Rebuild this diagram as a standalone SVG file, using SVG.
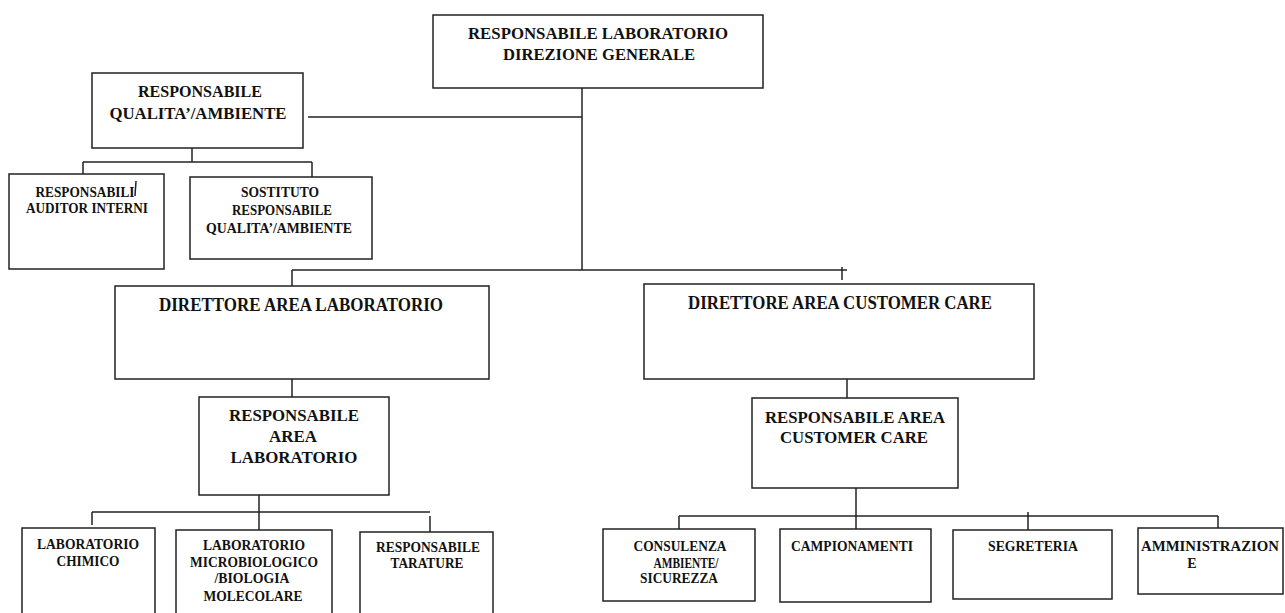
<svg xmlns="http://www.w3.org/2000/svg" width="1285" height="613" viewBox="0 0 1285 613">
<style>
rect{fill:#fff;stroke:#222;stroke-width:1.5}
line,path{stroke:#222;stroke-width:1.5;fill:none}
text{font-family:"Liberation Serif","Times New Roman",serif;font-weight:bold;fill:#111;text-anchor:middle}
.L{font-size:17px}
.X{font-size:18px}
.S{font-size:14px}
</style>
<rect x="0" y="0" width="1285" height="613" style="fill:#fff;stroke:none"/>
<g id="connectors">
<line x1="582" y1="88" x2="582" y2="270"/>
<line x1="308" y1="117" x2="582" y2="117"/>
<line x1="192" y1="148" x2="192" y2="162"/>
<line x1="83" y1="162" x2="312" y2="162"/>
<line x1="83" y1="162" x2="83" y2="175"/>
<line x1="312" y1="162" x2="312" y2="177"/>
<line x1="292" y1="270" x2="847" y2="270"/>
<line x1="292" y1="270" x2="292" y2="286"/>
<line x1="842" y1="267" x2="842" y2="280"/>
<line x1="292" y1="377" x2="292" y2="397"/>
<line x1="847" y1="377" x2="847" y2="399"/>
<line x1="259" y1="495" x2="259" y2="530"/>
<line x1="92" y1="512" x2="430" y2="512"/>
<line x1="92" y1="512" x2="92" y2="525"/>
<line x1="430" y1="516" x2="430" y2="532"/>
<line x1="856" y1="488" x2="856" y2="529"/>
<line x1="679" y1="516" x2="1218" y2="516"/>
<line x1="679" y1="516" x2="679" y2="529"/>
<line x1="1028" y1="512" x2="1028" y2="530"/>
<line x1="1218" y1="516" x2="1218" y2="528"/>
</g>
<g id="n-direzione">
<rect x="433" y="15" width="330" height="73"/>
<text class="L" x="598" y="39" textLength="260" lengthAdjust="spacingAndGlyphs">RESPONSABILE LABORATORIO</text>
<text class="L" x="599" y="60" textLength="192" lengthAdjust="spacingAndGlyphs">DIREZIONE GENERALE</text>
</g>
<g id="n-qualita">
<rect x="92" y="73" width="211" height="75"/>
<text class="L" x="200" y="97" textLength="124" lengthAdjust="spacingAndGlyphs">RESPONSABILE</text>
<text class="L" x="198" y="119" textLength="177" lengthAdjust="spacingAndGlyphs">QUALITA’/AMBIENTE</text>
</g>
<g id="n-auditor">
<rect x="9" y="174" width="155" height="95"/>
<text class="S" x="85" y="197" textLength="99" lengthAdjust="spacingAndGlyphs">RESPONSABILI</text>
<line x1="136" y1="181" x2="135" y2="196"/>
<text class="S" x="87" y="213" textLength="122" lengthAdjust="spacingAndGlyphs">AUDITOR INTERNI</text>
</g>
<g id="n-sostituto">
<rect x="190" y="177" width="182" height="82"/>
<text class="S" x="280" y="197" textLength="78" lengthAdjust="spacingAndGlyphs">SOSTITUTO</text>
<text class="S" x="282" y="215" textLength="100" lengthAdjust="spacingAndGlyphs">RESPONSABILE</text>
<text class="S" x="279" y="233" textLength="146" lengthAdjust="spacingAndGlyphs">QUALITA’/AMBIENTE</text>
</g>
<g id="n-dir-lab">
<rect x="115" y="286" width="374" height="93"/>
<text class="X" x="301" y="311" textLength="284" lengthAdjust="spacingAndGlyphs">DIRETTORE AREA LABORATORIO</text>
</g>
<g id="n-resp-lab">
<rect x="199" y="397" width="190" height="98"/>
<text class="L" x="294" y="421" textLength="130" lengthAdjust="spacingAndGlyphs">RESPONSABILE</text>
<text class="L" x="293" y="442" textLength="48" lengthAdjust="spacingAndGlyphs">AREA</text>
<text class="L" x="294" y="463" textLength="127" lengthAdjust="spacingAndGlyphs">LABORATORIO</text>
</g>
<g id="n-chimico">
<rect x="22" y="528" width="133" height="95"/>
<text class="S" x="88" y="549" textLength="102" lengthAdjust="spacingAndGlyphs">LABORATORIO</text>
<text class="S" x="88" y="566" textLength="63" lengthAdjust="spacingAndGlyphs">CHIMICO</text>
</g>
<g id="n-micro">
<rect x="176" y="530" width="156" height="95"/>
<text class="S" x="254" y="550" textLength="102" lengthAdjust="spacingAndGlyphs">LABORATORIO</text>
<text class="S" x="254" y="567" textLength="128" lengthAdjust="spacingAndGlyphs">MICROBIOLOGICO</text>
<text class="S" x="252" y="583" textLength="75" lengthAdjust="spacingAndGlyphs">/BIOLOGIA</text>
<text class="S" x="253" y="601" textLength="99" lengthAdjust="spacingAndGlyphs">MOLECOLARE</text>
</g>
<g id="n-tarature">
<rect x="360" y="532" width="133" height="95"/>
<text class="S" x="428" y="552" textLength="104" lengthAdjust="spacingAndGlyphs">RESPONSABILE</text>
<text class="S" x="427" y="568" textLength="73" lengthAdjust="spacingAndGlyphs">TARATURE</text>
</g>
<g id="n-dir-cc">
<rect x="644" y="284" width="390" height="95"/>
<text class="X" x="840" y="309" textLength="304" lengthAdjust="spacingAndGlyphs">DIRETTORE AREA CUSTOMER CARE</text>
</g>
<g id="n-resp-cc">
<rect x="752" y="398" width="206" height="90"/>
<text class="L" x="855" y="423" textLength="180" lengthAdjust="spacingAndGlyphs">RESPONSABILE AREA</text>
<text class="L" x="854" y="443" textLength="148" lengthAdjust="spacingAndGlyphs">CUSTOMER CARE</text>
</g>
<g id="n-consulenza">
<rect x="603" y="529" width="152" height="72"/>
<text class="S" x="680" y="551" textLength="93" lengthAdjust="spacingAndGlyphs">CONSULENZA</text>
<text class="S" x="686" y="568" textLength="65" lengthAdjust="spacingAndGlyphs">AMBIENTE/</text>
<text class="S" x="679" y="583" textLength="78" lengthAdjust="spacingAndGlyphs">SICUREZZA</text>
</g>
<g id="n-campionamenti">
<rect x="780" y="529" width="151" height="73"/>
<text class="S" x="852" y="551" textLength="122" lengthAdjust="spacingAndGlyphs">CAMPIONAMENTI</text>
</g>
<g id="n-segreteria">
<rect x="953" y="530" width="159" height="69"/>
<text class="S" x="1033" y="551" textLength="90" lengthAdjust="spacingAndGlyphs">SEGRETERIA</text>
</g>
<g id="n-amministrazione">
<rect x="1138" y="528" width="145" height="66"/>
<text class="S" x="1210" y="551" textLength="138" lengthAdjust="spacingAndGlyphs">AMMINISTRAZION</text>
<text class="S" x="1192" y="568">E</text>
</g>
</svg>
